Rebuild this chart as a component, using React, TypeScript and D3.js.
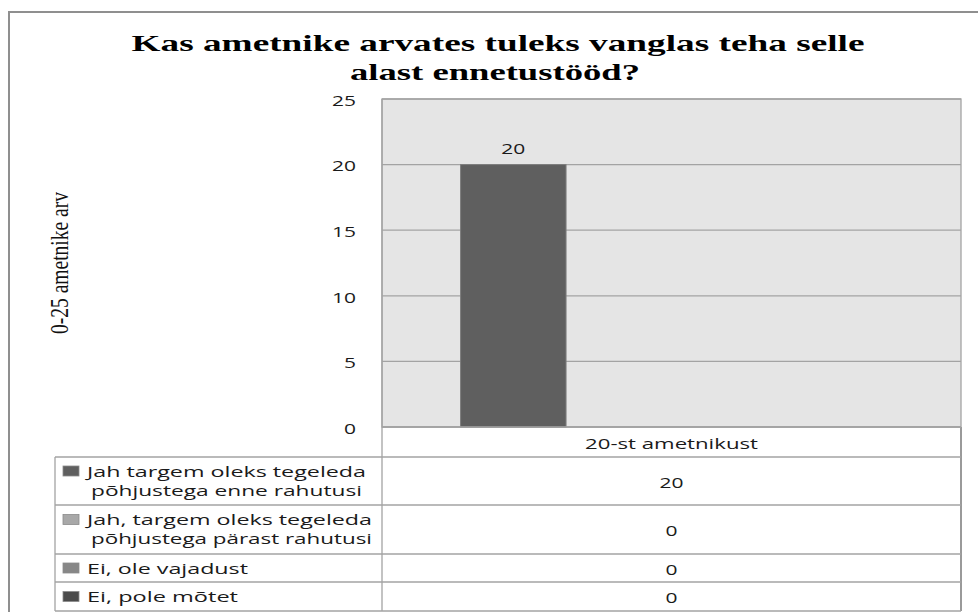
import React from "react";
import * as d3 from "d3";

// ---- data ----
const title = ["Kas ametnike arvates tuleks vanglas teha selle", "alast ennetustööd?"];
const yAxisTitle = "0-25 ametnike arv";
const categories = ["20-st ametnikust"];
const seriesLabels: string[][] = [
  ["Jah targem oleks tegeleda", "põhjustega enne rahutusi"],
  ["Jah, targem oleks tegeleda", "põhjustega pärast rahutusi"],
  ["Ei, ole vajadust"],
  ["Ei, pole mõtet"],
];
const seriesValues = [20, 0, 0, 0];
const yTicks = [0, 5, 10, 15, 20, 25];
const seriesColors = ["#5f5f5f", "#a8a8a8", "#878787", "#4b4b4b"];

// ---- layout ----
const W = 978, H = 612;
const plotL = 382, plotR = 961, plotT = 99, plotB = 427;
const legL = 55;
const rowEdges = [427, 457, 505, 554, 582, 611];
const legendLineWidths = [[279, 271], [285, 281], [161], [151]];
const SX = 1.4; // horizontal stretch of the reference image
const sans = "'Open Sans', 'DejaVu Sans', sans-serif";
const serif = "'Liberation Serif', 'Times New Roman', serif";
const lineCol = "#a3a3a3";
const FS = 15;

function ST({ x, y, children, anchor = "middle", size = FS, fill = "#1a1a1a" }: any) {
  return (
    <text
      transform={`translate(${x},${y}) scale(${SX},1)`}
      textAnchor={anchor}
      dominantBaseline="central"
      fontFamily={sans}
      fontSize={size}
      fill={fill}
    >
      {children}
    </text>
  );
}

export default function App() {
  const y = d3.scaleLinear().domain([0, 25]).range([plotB, plotT]);
  const xCat = d3.scaleBand<string>().domain(categories).range([plotL, plotR]);
  const xSer = d3
    .scaleBand<number>()
    .domain(seriesValues.map((_, i) => i))
    .range([0, xCat.bandwidth()])
    .paddingInner(0)
    .paddingOuter(0.745);
  const cat = categories[0];
  const cx = (xCat(cat) as number) + xCat.bandwidth() / 2;

  return (
    <svg width={W} height={H} style={{ position: "absolute", left: 0, top: 0, background: "#fff" }}>
      {/* outer border */}
      <rect x={9} y={12} width={1100} height={800} fill="none" stroke="#8f8f8f" strokeWidth={2} />

      {/* title */}
      <text x={498} y={51} textAnchor="middle" fontFamily={serif} fontWeight="bold" fontSize={24}
        textLength={733} lengthAdjust="spacingAndGlyphs">{title[0]}</text>
      <text x={495} y={80} textAnchor="middle" fontFamily={serif} fontWeight="bold" fontSize={24}
        textLength={290} lengthAdjust="spacingAndGlyphs">{title[1]}</text>

      {/* y axis title */}
      <text transform={`translate(68,263) rotate(-90)`} textAnchor="middle" fontFamily={serif} fontSize={25}
        textLength={142} lengthAdjust="spacingAndGlyphs" fill="#111">{yAxisTitle}</text>

      {/* plot area */}
      <rect x={plotL} y={plotT} width={plotR - plotL} height={plotB - plotT} fill="#e5e5e5" stroke={lineCol} strokeWidth={1.3} />
      {yTicks.map((t) => (
        <line key={"g" + t} x1={plotL} x2={plotR} y1={y(t)} y2={y(t)} stroke={lineCol} strokeWidth={1.3} />
      ))}
      {yTicks.map((t) => (
        <ST key={"t" + t} x={356} y={y(t) + 1} anchor="end">{t}</ST>
      ))}

      {/* bars */}
      {seriesValues.map((v, i) => {
        const bx = (xCat(cat) as number) + (xSer(i) as number);
        const bw = xSer.bandwidth();
        return v > 0 ? (
          <g key={"b" + i}>
            <rect x={bx} y={y(v)} width={bw} height={y(0) - y(v)} fill={seriesColors[i]} stroke="#7d7d7d" strokeWidth={1} />
            <ST x={bx + bw / 2} y={y(v) - 16}>{v}</ST>
          </g>
        ) : null;
      })}

      {/* data table */}
      <line x1={plotL} x2={plotL} y1={plotT} y2={rowEdges[rowEdges.length - 1]} stroke={lineCol} strokeWidth={1.3} />
      <line x1={plotR} x2={plotR} y1={plotB} y2={rowEdges[rowEdges.length - 1]} stroke="#9a9a9a" strokeWidth={2} />
      <line x1={legL} x2={legL} y1={rowEdges[1]} y2={rowEdges[rowEdges.length - 1]} stroke={lineCol} strokeWidth={1.3} />
      {rowEdges.map((e, i) => (
        <line key={"r" + i} x1={i === 0 ? plotL : legL} x2={plotR} y1={e} y2={e} stroke={lineCol} strokeWidth={1.3} />
      ))}
      <text x={cx} y={(rowEdges[0] + rowEdges[1]) / 2 + 1} textAnchor="middle" dominantBaseline="central"
        fontFamily={sans} fontSize={FS} fill="#1a1a1a" textLength={173} lengthAdjust="spacingAndGlyphs">{cat}</text>

      {seriesLabels.map((lines, i) => {
        const top = rowEdges[i + 1], bot = rowEdges[i + 2];
        const mid = (top + bot) / 2;
        const l1 = lines.length === 2 ? mid - 10 : mid;
        return (
          <g key={"s" + i}>
            <rect x={63} y={l1 - 5} width={16} height={10} fill={seriesColors[i]} stroke="#8a8a8a" strokeWidth={0.8} />
            {lines.map((ln, j) => (
              <text key={j} x={j === 0 ? 87 : 91} y={l1 + j * 19} dominantBaseline="central" fontFamily={sans}
                fontSize={14} fill="#1a1a1a" textLength={legendLineWidths[i][j]} lengthAdjust="spacingAndGlyphs">{ln}</text>
            ))}
            <ST x={cx} y={mid + 1}>{seriesValues[i]}</ST>
          </g>
        );
      })}
    </svg>
  );
}
